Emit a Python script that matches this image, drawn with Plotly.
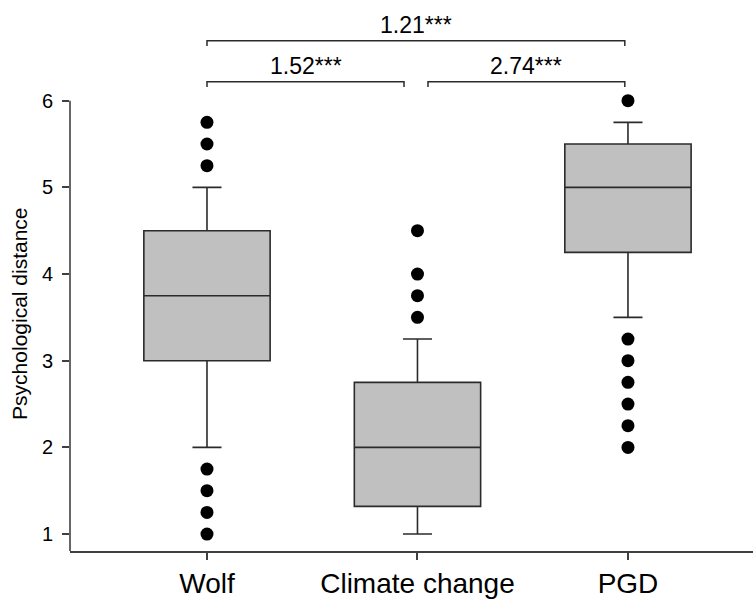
import plotly.graph_objects as go

# ---- data ----
categories = ["Wolf", "Climate change", "PGD"]
q1 = [3.0, 1.32, 4.25]
medians = [3.75, 2.0, 5.0]
q3 = [4.5, 2.75, 5.5]
lower_whisker = [2.0, 1.0, 3.5]
upper_whisker = [5.0, 3.25, 5.75]
outliers = [
    [1.0, 1.25, 1.5, 1.75, 5.25, 5.5, 5.75],
    [3.5, 3.75, 4.0, 4.5],
    [2.0, 2.25, 2.5, 2.75, 3.0, 3.25, 6.0],
]
comparison_labels = ["1.52***", "2.74***", "1.21***"]
y_ticks = [1, 2, 3, 4, 5, 6]

FONT = "Liberation Sans, Arial, sans-serif"
LINE = "#2b2b2b"
xpos = list(range(len(categories)))

fig = go.Figure()
for i, cat in enumerate(categories):
    fig.add_trace(go.Box(
        x=[xpos[i]], q1=[q1[i]], median=[medians[i]], q3=[q3[i]],
        lowerfence=[lower_whisker[i]], upperfence=[upper_whisker[i]],
        width=0.6, whiskerwidth=0.23, boxpoints=False,
        fillcolor="#c0c0c0", line=dict(color=LINE, width=1.6),
        name=cat, showlegend=False, hoverinfo="skip",
    ))
    fig.add_trace(go.Scatter(
        x=[xpos[i]] * len(outliers[i]), y=outliers[i], mode="markers",
        marker=dict(color="black", size=13), showlegend=False,
        cliponaxis=False, hoverinfo="skip",
    ))

# comparison brackets (x0, x1, level y)
brackets = [(0.0, 0.936, 6.218), (1.05, 1.985, 6.218), (0.0, 1.985, 6.69)]
tick_drop = 0.06
for (x0, x1, yb), lab in zip(brackets, comparison_labels):
    fig.add_shape(type="path",
                  path=f"M {x0},{yb - tick_drop} L {x0},{yb} L {x1},{yb} L {x1},{yb - tick_drop}",
                  line=dict(color=LINE, width=1.5), xref="x", yref="y")
    fig.add_annotation(x=(x0 + x1) / 2, y=yb, text=lab, showarrow=False,
                       xanchor="center", yanchor="bottom", yshift=1,
                       font=dict(family=FONT, size=23, color="black"))

ymin = 0.8046
# y axis line only up to 6
fig.add_shape(type="line", xref="paper", yref="y", x0=0, x1=0, y0=ymin, y1=6,
              line=dict(color="#404040", width=1.6))

fig.add_annotation(xref="paper", yref="y", x=-0.0732, y=3.54, text="Psychological distance",
                   textangle=-90, showarrow=False, xanchor="center", yanchor="middle",
                   font=dict(family=FONT, size=21, color="black"))

fig.update_layout(
    width=753, height=599,
    margin=dict(l=70, r=0, t=10, b=46),
    paper_bgcolor="white", plot_bgcolor="white",
    font=dict(family=FONT, color="black"),
    xaxis=dict(range=[-0.6508, 2.594], tickvals=xpos, ticktext=categories,
               showgrid=False, zeroline=False, showline=True, linecolor="#404040",
               linewidth=1.6, ticks="outside", ticklen=7, tickcolor="#404040",
               tickwidth=1.5, tickfont=dict(family=FONT, size=28, color="black")),
    yaxis=dict(range=[ymin, 7.046], tickvals=y_ticks, showgrid=False, zeroline=False,
               showline=False, ticks="outside", ticklen=7, tickcolor="#404040",
               tickwidth=1.5, ticklabelstandoff=5,
               tickfont=dict(family=FONT, size=20, color="black")),
)

fig.write_html("out.html")
